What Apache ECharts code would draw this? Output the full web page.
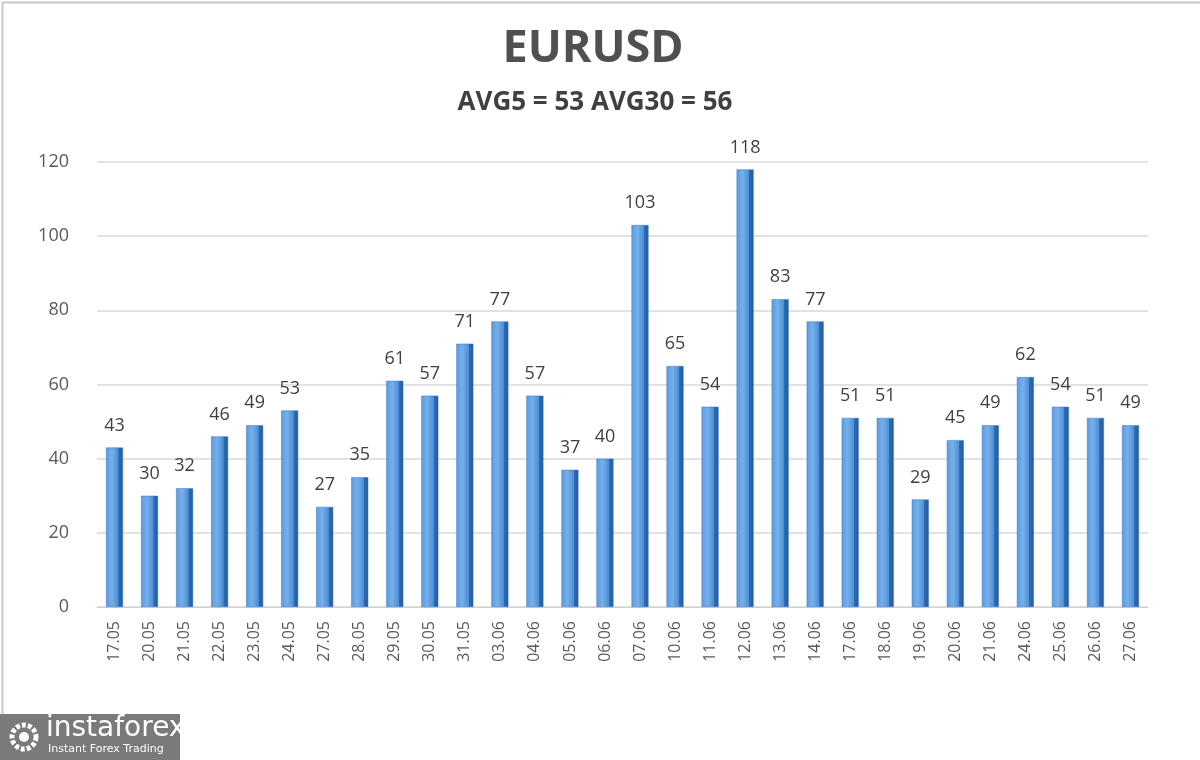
<!DOCTYPE html>
<html>
<head>
<meta charset="utf-8">
<script src="https://cdn.jsdelivr.net/npm/echarts@6/dist/echarts.min.js"></script>
<style>
html,body{margin:0;padding:0;background:#fff;}
#c{width:1200px;height:760px;}
</style>
</head>
<body>
<div id="c"></div>
<script>
const categories = ['17.05','20.05','21.05','22.05','23.05','24.05','27.05','28.05','29.05','30.05','31.05','03.06','04.06','05.06','06.06','07.06','10.06','11.06','12.06','13.06','14.06','17.06','18.06','19.06','20.06','21.06','24.06','25.06','26.06','27.06'];
const values = [43,30,32,46,49,53,27,35,61,57,71,77,57,37,40,103,65,54,118,83,77,51,51,29,45,49,62,54,51,49];
const yTicks = [0,20,40,60,80,100,120];
const titleText = 'EURUSD';
const subtitleText = 'AVG5 = 53 AVG30 = 56';

const chart = echarts.init(document.getElementById('c'), null, {renderer:'canvas'});
const font = '"Open Sans", "DejaVu Sans", sans-serif';
chart.setOption({
  backgroundColor:'#ffffff',
  animation:false,
  title:[
    {text:titleText, left:588, top:22, textAlign:'center',
     textStyle:{fontFamily:font, fontSize:45, fontWeight:'bold', color:'#505050'}},
    {text:subtitleText, left:590, top:85, textAlign:'center',
     textStyle:{fontFamily:font, fontSize:26, fontWeight:'bold', color:'#404040'}}
  ],
  grid:{left:97, right:52, top:162, bottom:153, containLabel:false},
  xAxis:{
    type:'category', data:categories,
    axisLine:{show:true, lineStyle:{color:'#d0d0d0', width:1}},
    axisTick:{show:false},
    axisLabel:{rotate:90, margin:14, fontFamily:font, fontSize:16, color:'#595959'}
  },
  yAxis:{
    type:'value', min:yTicks[0], max:yTicks[yTicks.length-1], interval:20,
    axisLine:{show:false}, axisTick:{show:false},
    axisLabel:{margin:28, fontFamily:font, fontSize:18, color:'#595959', padding:[8,0,0,0]},
    splitLine:{lineStyle:{color:'#d9d9d9', width:1.5}}
  },
  series:[{
    type:'bar', data:values, barWidth:17,
    itemStyle:{
      color:new echarts.graphic.LinearGradient(0,0,1,0,[
        {offset:0, color:'#5a9be0'},
        {offset:0.35, color:'#76b0ea'},
        {offset:0.72, color:'#4b8ed8'},
        {offset:0.74, color:'#2d6cb4'},
        {offset:1, color:'#245b9c'}
      ]),
      borderColor:'#3a78c0', borderWidth:0.5
    },
    label:{show:true, position:'top', distance:13, fontFamily:font, fontSize:18, color:'#404040'}
  }],
  graphic:[
    {type:'rect', left:0, top:0, shape:{x:0,y:0,width:1199,height:759},
     style:{fill:'none', stroke:'#c8c8c8', lineWidth:2}, silent:true},
    {type:'rect', shape:{x:0,y:714,width:180,height:46}, style:{fill:'#7a7a7a'}},
    {type:'circle', shape:{cx:24,cy:737,r:12}, style:{fill:'none', stroke:'#ffffff', lineWidth:5, lineDash:[4,2]}},
    {type:'circle', shape:{cx:24,cy:737,r:5}, style:{fill:'#ffffff'}},
    {type:'text', style:{x:46,y:715,text:'instaforex', fill:'#ffffff', font:'28px "DejaVu Sans", sans-serif'}},
    {type:'text', style:{x:48,y:744,text:'Instant Forex Trading', fill:'#ffffff', font:'11px "DejaVu Sans", sans-serif'}}
  ]
});
</script>
</body>
</html>
